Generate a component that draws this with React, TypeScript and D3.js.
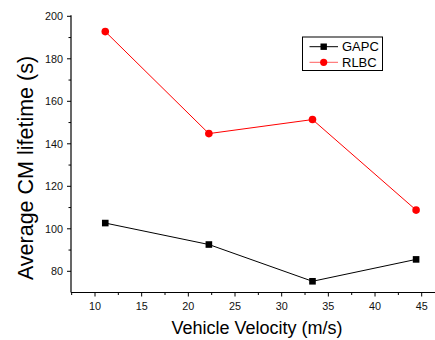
import React from "react";
import * as d3 from "d3";

const velocities = [11.1, 22.2, 33.3, 44.4];
const gapc = [102.7, 92.6, 75.3, 85.6];
const rlbc = [192.8, 144.8, 151.4, 108.8];
const xTicks = [10, 15, 20, 25, 30, 35, 40, 45];
const yTicks = [80, 100, 120, 140, 160, 180, 200];
const seriesNames = ["GAPC", "RLBC"];

const W = 435, H = 340;
const left = 71, right = 435, top = 16.3, bottom = 292.5;

export default function App() {
  const x = d3.scaleLinear().domain([10, 45]).range([95, 421.7]);
  const y = d3.scaleLinear().domain([80, 200]).range([271.3, 16.3]);
  const xMinor = d3.range(7.5, 47.5, 2.5).filter((v) => x(v) >= left && x(v) <= right && !xTicks.includes(v));
  const yMinor = d3.range(70, 201, 10).filter((v) => !yTicks.includes(v) && y(v) <= bottom);
  const line = d3.line<number>().x((_, i) => x(velocities[i])).y((d) => y(d));
  const font = "Arial, 'Liberation Sans', sans-serif";
  return (
    <svg width={W} height={H} style={{ position: "absolute", left: 0, top: 0, background: "#fff" }} fontFamily={font}>
      <rect width={W} height={H} fill="#fff" />
      {/* axes */}
      <line x1={left} x2={left} y1={top - 1} y2={bottom} stroke="#000" strokeWidth={1.2} />
      <line x1={left} x2={right} y1={bottom} y2={bottom} stroke="#000" strokeWidth={1.2} />
      {yTicks.map((t) => (
        <g key={"y" + t}>
          <line x1={left - 4} x2={left} y1={y(t)} y2={y(t)} stroke="#000" />
          <text x={left - 8} y={y(t)} dy="0.35em" textAnchor="end" fontSize={10.8} fill="#111">{t}</text>
        </g>
      ))}
      {yMinor.map((t) => (
        <line key={"ym" + t} x1={left - 2.5} x2={left} y1={y(t)} y2={y(t)} stroke="#000" />
      ))}
      {xTicks.map((t) => (
        <g key={"x" + t}>
          <line x1={x(t)} x2={x(t)} y1={bottom} y2={bottom + 4} stroke="#000" />
          <text x={x(t)} y={bottom + 17} textAnchor="middle" fontSize={10.8} fill="#111">{t}</text>
        </g>
      ))}
      {xMinor.map((t) => (
        <line key={"xm" + t} x1={x(t)} x2={x(t)} y1={bottom} y2={bottom + 2.5} stroke="#000" />
      ))}
      {/* labels */}
      <text transform={`translate(33,168) rotate(-90)`} textAnchor="middle" fontSize={21.5} fill="#000">Average CM lifetime (s)</text>
      <text x={257} y={334} textAnchor="middle" fontSize={18} fill="#000">Vehicle Velocity (m/s)</text>
      {/* series */}
      <path d={line(gapc) || ""} fill="none" stroke="#000" strokeWidth={1} />
      {gapc.map((v, i) => (
        <rect key={"g" + i} x={x(velocities[i]) - 3.3} y={y(v) - 3.3} width={6.6} height={6.6} fill="#000" />
      ))}
      <path d={line(rlbc) || ""} fill="none" stroke="#ff0000" strokeWidth={1} />
      {rlbc.map((v, i) => (
        <circle key={"r" + i} cx={x(velocities[i])} cy={y(v)} r={3.8} fill="#ff0000" />
      ))}
      {/* legend */}
      <rect x={302.5} y={37} width={80} height={33.5} fill="#fff" stroke="#000" strokeWidth={1} />
      <line x1={309.5} x2={338} y1={46.7} y2={46.7} stroke="#000" />
      <rect x={320.5} y={43.5} width={6.4} height={6.4} fill="#000" />
      <text x={342} y={46.7} dy="0.35em" fontSize={13} fill="#000">{seriesNames[0]}</text>
      <line x1={309.5} x2={338} y1={62.3} y2={62.3} stroke="#ff6060" />
      <circle cx={323.7} cy={62.3} r={3.6} fill="#ff0000" />
      <text x={342} y={62.3} dy="0.35em" fontSize={13} fill="#000">{seriesNames[1]}</text>
    </svg>
  );
}
